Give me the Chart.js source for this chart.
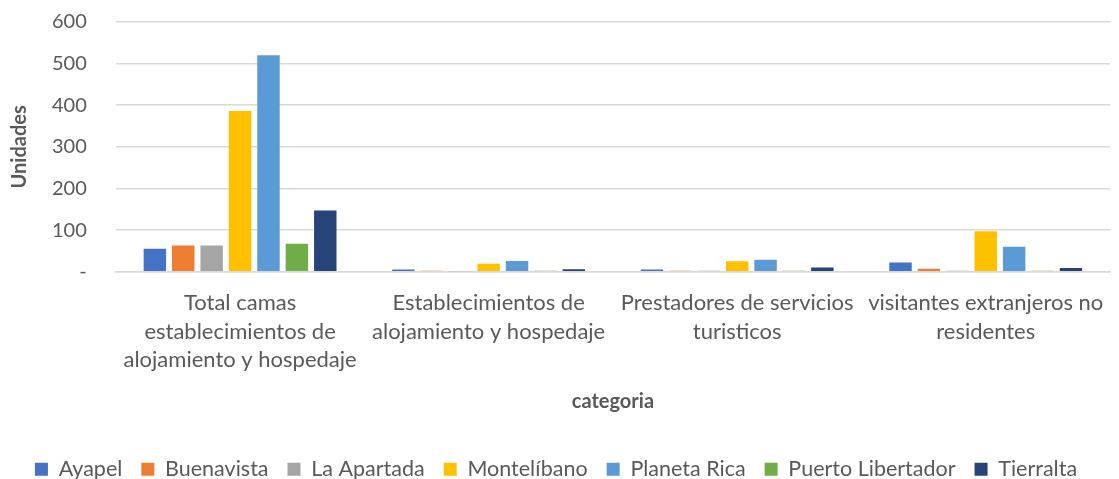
<!DOCTYPE html>
<html lang="es">
<head>
<meta charset="UTF-8">
<title>Unidades por categoria</title>
<script src="https://cdn.jsdelivr.net/npm/chart.js@4.4.1/dist/chart.umd.min.js"></script>
<style>
  html, body { margin: 0; padding: 0; background: #fff; }
  #wrap { width: 1119px; height: 479px; }
</style>
</head>
<body>
<div id="wrap"><canvas id="myChart"></canvas></div>
<script>
const categorias = [
  ['Total camas', 'establecimientos de', 'alojamiento y hospedaje'],
  ['Establecimientos de', 'alojamiento y hospedaje'],
  ['Prestadores de servicios', 'turisticos'],
  ['visitantes extranjeros no', 'residentes']
];
const municipios = ['Ayapel', 'Buenavista', 'La Apartada', 'Montelíbano', 'Planeta Rica', 'Puerto Libertador', 'Tierralta'];
const colores = ['#4472c4', '#ed7d31', '#a5a5a5', '#ffc000', '#5b9bd5', '#70ad47', '#264478'];

const ayapel = [55, 5, 5, 22];
const buenavista = [63, 2, 2, 7];
const laApartada = [63, 1, 2, 2];
const montelibano = [386, 19, 25, 97];
const planetaRica = [520, 26, 29, 60];
const puertoLibertador = [67, 2, 2, 2];
const tierralta = [147, 6, 10, 9];

const series = [ayapel, buenavista, laApartada, montelibano, planetaRica, puertoLibertador, tierralta];

const fuente = 'Lato, "Liberation Sans", sans-serif';
const gris = '#595959';

// legend takes a bit less height than Chart.js gives it
const legendaCompacta = {
  id: 'legendaCompacta',
  beforeLayout(chart) {
    const lg = chart.legend;
    if (lg && !lg._compacta) {
      const fit = lg.fit;
      lg.fit = function () { fit.call(this); this.height -= 5; };
      lg._compacta = true;
    }
  }
};

new Chart(document.getElementById('myChart'), {
  type: 'bar',
  data: {
    labels: categorias,
    datasets: series.map((vals, i) => ({
      label: municipios[i],
      data: vals,
      backgroundColor: colores[i],
      borderWidth: 0,
      categoryPercentage: 0.8,
      barPercentage: 0.79
    }))
  },
  plugins: [legendaCompacta],
  options: {
    responsive: true,
    maintainAspectRatio: false,
    animation: false,
    layout: { padding: { top: 22, right: 9, left: 2, bottom: -6 } },
    plugins: {
      tooltip: { enabled: false },
      legend: {
        position: 'bottom',
        labels: {
          color: gris,
          font: { family: fuente, size: 21.5 },
          boxWidth: 13,
          boxHeight: 13,
          padding: 19
        }
      }
    },
    scales: {
      x: {
        grid: { display: false },
        border: { color: '#d9d9d9', width: 1.5 },
        ticks: {
          color: gris,
          font: { family: fuente, size: 22, lineHeight: 1.3 },
          padding: 9,
          maxRotation: 0,
          autoSkip: false
        },
        title: {
          display: true,
          text: 'categoria',
          color: gris,
          font: { family: fuente, size: 20, weight: 'bold' },
          padding: { top: 6, bottom: 26 }
        }
      },
      y: {
        min: 0,
        max: 600,
        ticks: {
          stepSize: 100,
          color: gris,
          font: { family: fuente, size: 20 },
          padding: 6,
          callback: v => v === 0 ? '-' : v
        },
        grid: { color: '#d9d9d9', lineWidth: 1.5, drawTicks: true, tickLength: 23, tickColor: 'rgba(0,0,0,0)' },
        border: { display: false },
        title: {
          display: true,
          text: 'Unidades',
          color: gris,
          font: { family: fuente, size: 20, weight: 'bold' },
          padding: { top: 6, bottom: 14 }
        }
      }
    }
  }
});
</script>
</body>
</html>
